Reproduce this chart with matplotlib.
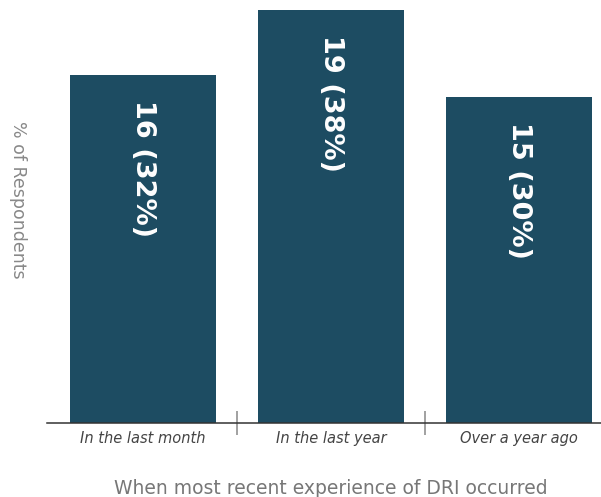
import matplotlib
matplotlib.use("Agg")
import matplotlib.pyplot as plt

categories = ["In the last month", "In the last year", "Over a year ago"]
counts = [16, 19, 15]
percents = [32, 38, 30]

bar_color = "#1d4c62"

fig = plt.figure(figsize=(6.01, 4.97), dpi=100)
W, H = 601, 497
ax = fig.add_axes([47 / W, (H - 423) / H, (601 - 47) / W, 423 / H])

x = list(range(len(categories)))
ax.bar(x, counts, width=146 / 188, color=bar_color, zorder=2)

for xi, c, p in zip(x, counts, percents):
    ax.text(xi, c - 1.15, f"{c} ({p}%)", rotation=270, ha="center", va="top",
            color="white", fontsize=19.5, fontweight="bold", family="DejaVu Sans")

ax.set_xlim(-0.51, 2.436)
ax.set_ylim(0, 423 / 21.75)

for s in ["top", "right", "left"]:
    ax.spines[s].set_visible(False)
ax.spines["bottom"].set_color("#333333")
ax.spines["bottom"].set_linewidth(1.1)
ax.spines["bottom"].set_zorder(3)

ax.set_yticks([])
ax.set_xticks(x)
ax.set_xticklabels(categories, fontsize=10.5, fontstyle="italic", color="#444444")
ax.tick_params(axis="x", which="major", length=0, pad=6)
ax.set_xticks([0.5, 1.5], minor=True)
ax.tick_params(axis="x", which="minor", direction="inout", length=17, width=1.1, color="#888888")

fig.text(0.5 * (111 + 550) / W, 1 - 489 / H, "When most recent experience of DRI occurred",
         ha="center", va="center", fontsize=13.5, color="#777777")
fig.text(18 / W, 1 - 200 / H, "% of Respondents", rotation=270, ha="center", va="center",
         fontsize=12.5, color="#888888")

fig.savefig("out.png", dpi=100)
